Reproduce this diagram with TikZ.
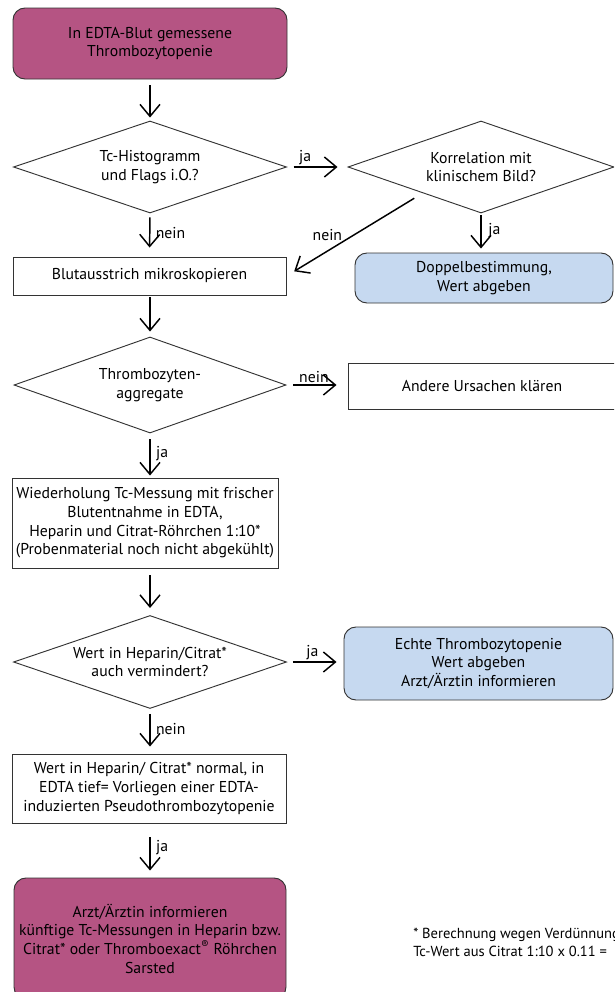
\documentclass[tikz,border=0pt]{standalone}
\usepackage{fontspec}
\setmainfont{PT Sans}
\usetikzlibrary{shapes.geometric}
\usetikzlibrary{arrows.meta}
\definecolor{startPink}{RGB}{181,84,131}
\definecolor{resultBlue}{RGB}{198,217,240}

\begin{document}
\begin{tikzpicture}[x=0.75pt, y=-0.75pt,
font=\fontsize{11.8}{14}\selectfont,
node/.style = {align=center, draw=black!80, line width=0.7pt, inner sep=2pt},
process/.style = {node, rectangle},
terminal/.style = {node, rectangle, rounded corners=9pt, fill=startPink},
result/.style = {node, rectangle, rounded corners=9pt, fill=resultBlue},
decision/.style = {node, diamond, aspect=3, inner sep=0pt},
flow/.style = {line width=1.1pt, -{Straight Barb[length=9pt, width=15pt, line width=1.1pt]}},
flowLabel/.style = {inner sep=1pt}]
\useasboundingbox (0,0) rectangle (614,992);
\clip (0,0) rectangle (614,992);

\node[terminal, minimum width=205.5pt, minimum height=53.25pt] (start) at (150,43.5) {In EDTA-Blut gemessene\\Thrombozytopenie};
\node[decision, minimum width=204.75pt, minimum height=69pt] (histo) at (150,167) {Tc-Histogramm\\und Flags i.O.?};
\node[decision, minimum width=199.5pt, minimum height=69pt] (klinik) at (481,167) {Korrelation mit\\klinischem Bild?};
\node[process, minimum width=204.75pt, minimum height=28.5pt] (ausstrich) at (149.5,276) {Blutausstrich mikroskopieren};
\node[result, minimum width=193.5pt, minimum height=37.5pt] (doppel) at (484,278) {Doppelbestimmung,\\Wert abgeben};
\node[decision, minimum width=204pt, minimum height=72pt] (aggregate) at (150,385) {Thrombozyten-\\aggregate};
\node[process, minimum width=201pt, minimum height=34.5pt] (andere) at (482,386) {Andere Ursachen klären};
\node[process, minimum width=199.5pt, minimum height=67.5pt] (wiederholung) at (145,523) {Wiederholung Tc-Messung mit frischer\\Blutentnahme in EDTA,\\Heparin und Citrat-Röhrchen 1:10*\\(Probenmaterial noch nicht abgekühlt)};
\node[decision, minimum width=204.75pt, minimum height=69.75pt] (vermindert) at (150,662) {Wert in Heparin/Citrat*\\auch vermindert?};
\node[result, minimum width=201.75pt, minimum height=54.75pt] (echte) at (478.5,663.5) {Echte Thrombozytopenie\\Wert abgeben\\Arzt/Ärztin informieren};
\node[process, minimum width=205.5pt, minimum height=51.75pt] (pseudo) at (149,788.5) {Wert in Heparin/ Citrat* normal, in\\EDTA tief= Vorliegen einer EDTA-\\induzierten Pseudothrombozytopenie};
\node[terminal, minimum width=204pt, minimum height=90.75pt] (final) at (150,938.5) {Arzt/Ärztin informieren\\künftige Tc-Messungen in Heparin bzw.\\Citrat* oder Thromboexact\textsuperscript{®} Röhrchen\\Sarsted};
\node[align=left, anchor=west, inner sep=0pt, font=\fontsize{10.9}{14}\selectfont] (fussnote) at (413,942.5) {* Berechnung wegen Verdünnung\\Tc-Wert aus Citrat 1:10 x 0.11 =};

\draw[flow, shorten <=4.5pt, shorten >=2.25pt] (start) -- (histo);
\draw[flow, shorten <=5pt, shorten >=7.5pt] (histo.east) -- node[flowLabel, above, pos=0.3] {ja} (klinik.west);
\draw[flow, shorten <=3pt, shorten >=6.75pt] (histo.south) -- node[flowLabel, right=3pt, pos=0.45] {nein} (ausstrich.north);
\draw[flow, shorten <=1.5pt, shorten >=3pt] (klinik.south) -- node[flowLabel, right=4pt, pos=0.45] {ja} (klinik.south |- doppel.north);
\draw[flow, shorten >=6.75pt] ([yshift=-6pt]klinik.south west) -- node[flowLabel, above=6pt, pos=0.68] {nein} (ausstrich.east);
\draw[flow, shorten <=1.5pt, shorten >=3.75pt] (ausstrich.south -| aggregate.north) -- (aggregate.north);
\draw[flow, shorten <=5.25pt, shorten >=8.25pt] (aggregate.east) -- node[flowLabel, above, pos=0.45] {nein} (aggregate.east -| andere.west);
\draw[flow, shorten <=4.5pt, shorten >=1.5pt] (aggregate.south) -- node[flowLabel, right=3pt, pos=0.45] {ja} (aggregate.south |- wiederholung.north);
\draw[flow, shorten <=5.25pt, shorten >=5.25pt] (wiederholung.south -| vermindert.north) -- (vermindert.north);
\draw[flow, shorten <=4.5pt, shorten >=5.25pt] (vermindert.east) -- node[flowLabel, above, pos=0.45] {ja} (vermindert.east -| echte.west);
\draw[flow, shorten <=3.75pt, shorten >=5.25pt] (vermindert.south) -- node[flowLabel, right=3pt, pos=0.45] {nein} (vermindert.south |- pseudo.north);
\draw[flow, shorten <=10.5pt, shorten >=5.25pt] (pseudo.south -| final.north) -- node[flowLabel, right=3pt, pos=0.45] {ja} (final.north);
\end{tikzpicture}
\end{document}
